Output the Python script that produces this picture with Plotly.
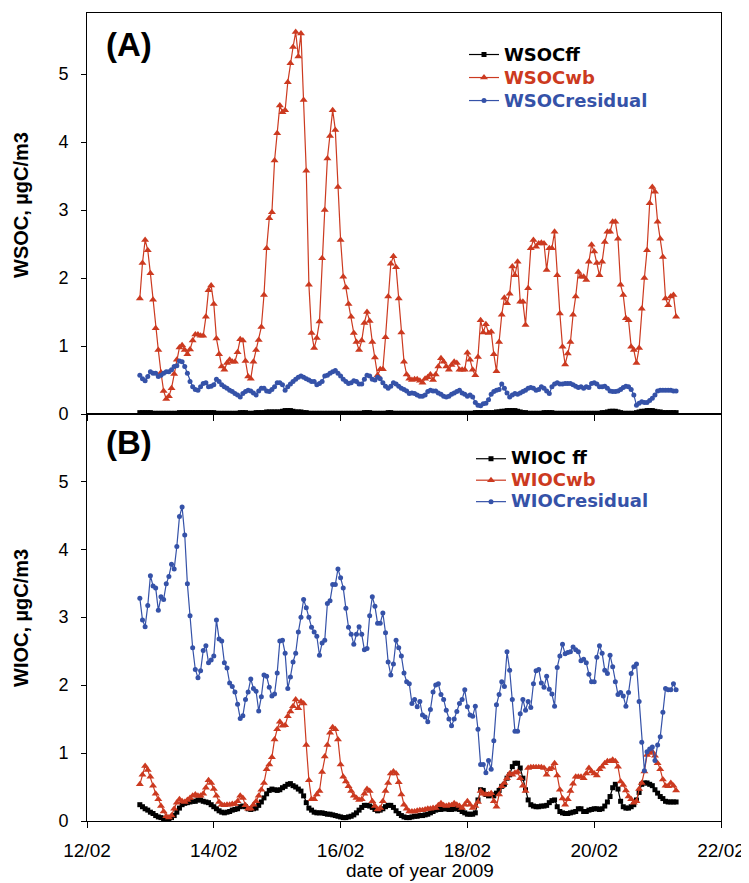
import pandas as pd
import plotly.graph_objects as go

# ---------------- data (hourly values, 12/02/2009 20:00 -> 21/02/2009 07:00) ----------------
start_time = "2009-02-12 20:00"

wsoc_ff = [
    0.02, 0.02, 0.02, 0.02, 0.02, 0.01, 0.01, 0.01, 0.01, 0.01,
    0.01, 0.01, 0.01, 0.01, 0.01, 0.02, 0.02, 0.02, 0.02, 0.02,
    0.02, 0.02, 0.02, 0.02, 0.02, 0.02, 0.02, 0.02, 0.02, 0.01,
    0.01, 0.01, 0.01, 0.01, 0.01, 0.01, 0.01, 0.01, 0.02, 0.02,
    0.02, 0.01, 0.01, 0.01, 0.02, 0.02, 0.02, 0.02, 0.03, 0.03,
    0.03, 0.03, 0.03, 0.03, 0.04, 0.05, 0.05, 0.05, 0.04, 0.03,
    0.03, 0.03, 0.02, 0.02, 0.01, 0.01, 0.01, 0.01, 0.01, 0.01,
    0.01, 0.01, 0.01, 0.01, 0.01, 0.01, 0.01, 0.01, 0.01, 0.01,
    0.01, 0.01, 0.01, 0.01, 0.01, 0.02, 0.02, 0.02, 0.01, 0.01,
    0.01, 0.01, 0.01, 0.01, 0.02, 0.02, 0.01, 0.01, 0.01, 0.01,
    0.01, 0.01, 0.01, 0.01, 0.01, 0.01, 0.01, 0.01, 0.01, 0.01,
    0.01, 0.01, 0.01, 0.01, 0.01, 0.01, 0.01, 0.01, 0.01, 0.01,
    0.01, 0.01, 0.01, 0.01, 0.01, 0.01, 0.01, 0.02, 0.02, 0.02,
    0.02, 0.02, 0.02, 0.02, 0.02, 0.03, 0.03, 0.04, 0.04, 0.05,
    0.05, 0.05, 0.05, 0.04, 0.03, 0.02, 0.02, 0.01, 0.01, 0.01,
    0.01, 0.01, 0.01, 0.02, 0.02, 0.02, 0.02, 0.01, 0.01, 0.01,
    0.01, 0.01, 0.01, 0.01, 0.01, 0.01, 0.01, 0.01, 0.01, 0.01,
    0.01, 0.01, 0.01, 0.01, 0.01, 0.02, 0.02, 0.03, 0.04, 0.04,
    0.04, 0.03, 0.02, 0.01, 0.01, 0.01, 0.01, 0.01, 0.02, 0.03,
    0.04, 0.04, 0.05, 0.05, 0.05, 0.04, 0.03, 0.03, 0.02, 0.02,
    0.02, 0.02, 0.02, 0.02,
]

wsoc_wb = [
    1.70, 2.22, 2.56, 2.41, 2.07, 1.68, 1.26, 0.94, 0.61, 0.34,
    0.22, 0.26, 0.38, 0.59, 0.80, 0.98, 1.01, 0.94, 0.88, 0.95,
    1.08, 1.17, 1.17, 1.15, 1.15, 1.43, 1.82, 1.89, 1.62, 1.11,
    0.88, 0.70, 0.65, 0.75, 0.80, 0.77, 0.77, 0.91, 1.10, 1.08,
    0.78, 0.55, 0.52, 0.77, 0.94, 1.09, 1.28, 1.75, 2.44, 2.88,
    2.97, 3.73, 4.13, 4.54, 4.44, 4.47, 4.88, 5.16, 5.40, 5.62,
    5.26, 5.60, 4.62, 3.58, 1.90, 1.19, 0.97, 1.12, 1.36, 2.29,
    3.00, 3.76, 4.09, 4.47, 4.18, 3.34, 2.56, 2.02, 1.86, 1.62,
    1.43, 1.19, 1.06, 0.94, 1.08, 1.34, 1.50, 1.37, 1.06, 0.83,
    0.57, 0.66, 0.66, 1.13, 1.73, 2.21, 2.32, 2.16, 1.70, 1.20,
    0.77, 0.58, 0.52, 0.50, 0.51, 0.51, 0.49, 0.46, 0.52, 0.54,
    0.58, 0.50, 0.58, 0.70, 0.82, 0.77, 0.70, 0.65, 0.72, 0.77,
    0.75, 0.65, 0.65, 0.65, 0.90, 0.80, 0.65, 0.57, 0.84, 1.38,
    1.20, 1.32, 1.19, 1.21, 0.88, 0.63, 1.06, 1.46, 1.71, 1.63,
    1.77, 2.17, 2.04, 2.24, 1.65, 1.65, 1.31, 1.85, 2.44, 2.56,
    2.46, 2.51, 2.52, 2.51, 2.12, 2.44, 2.44, 2.68, 2.04, 1.48,
    0.99, 0.73, 0.89, 1.06, 1.46, 1.73, 2.09, 2.02, 2.02, 1.97,
    2.24, 2.49, 2.39, 2.22, 2.04, 2.24, 2.53, 2.68, 2.68, 2.83,
    2.83, 2.58, 1.90, 1.75, 1.41, 1.38, 0.99, 0.94, 0.75, 0.97,
    1.55, 2.00, 2.41, 3.10, 3.34, 3.27, 2.83, 2.58, 2.31, 1.70,
    1.60, 1.73, 1.75, 1.43,
]

wsoc_residual = [
    0.57, 0.52, 0.49, 0.55, 0.62, 0.60, 0.60, 0.55, 0.57, 0.60,
    0.62, 0.62, 0.65, 0.70, 0.71, 0.78, 0.77, 0.70, 0.60, 0.48,
    0.40, 0.36, 0.35, 0.40, 0.45, 0.46, 0.40, 0.41, 0.43, 0.51,
    0.48, 0.43, 0.40, 0.38, 0.35, 0.33, 0.30, 0.28, 0.25, 0.30,
    0.33, 0.35, 0.34, 0.31, 0.28, 0.34, 0.38, 0.38, 0.34, 0.33,
    0.36, 0.40, 0.46, 0.46, 0.43, 0.35, 0.40, 0.44, 0.48, 0.51,
    0.54, 0.56, 0.54, 0.52, 0.50, 0.48, 0.48, 0.43, 0.45, 0.48,
    0.56, 0.57, 0.60, 0.62, 0.64, 0.60, 0.56, 0.51, 0.48, 0.45,
    0.46, 0.49, 0.48, 0.44, 0.44, 0.51, 0.57, 0.56, 0.51, 0.50,
    0.54, 0.52, 0.46, 0.41, 0.38, 0.41, 0.46, 0.44, 0.41, 0.38,
    0.36, 0.34, 0.30, 0.31, 0.30, 0.28, 0.26, 0.26, 0.28, 0.33,
    0.35, 0.34, 0.34, 0.31, 0.29, 0.26, 0.25, 0.26, 0.29, 0.31,
    0.33, 0.35, 0.31, 0.29, 0.26, 0.28, 0.25, 0.17, 0.13, 0.12,
    0.15, 0.16, 0.21, 0.29, 0.33, 0.35, 0.36, 0.44, 0.38, 0.31,
    0.25, 0.28, 0.30, 0.29, 0.31, 0.33, 0.35, 0.38, 0.39, 0.38,
    0.35, 0.36, 0.40, 0.38, 0.34, 0.30, 0.40, 0.44, 0.46, 0.44,
    0.44, 0.45, 0.45, 0.45, 0.43, 0.41, 0.39, 0.40, 0.38, 0.40,
    0.39, 0.45, 0.46, 0.44, 0.40, 0.40, 0.41, 0.38, 0.34, 0.33,
    0.33, 0.34, 0.36, 0.39, 0.41, 0.40, 0.36, 0.28, 0.13, 0.16,
    0.18, 0.17, 0.17, 0.20, 0.23, 0.28, 0.34, 0.35, 0.35, 0.35,
    0.35, 0.35, 0.34, 0.34,
]

wioc_ff = [
    0.24, 0.21, 0.18, 0.16, 0.13, 0.11, 0.08, 0.06, 0.05, 0.03,
    0.02, 0.02, 0.05, 0.08, 0.13, 0.19, 0.24, 0.26, 0.27, 0.28,
    0.29, 0.29, 0.31, 0.31, 0.29, 0.28, 0.27, 0.24, 0.21, 0.18,
    0.15, 0.13, 0.12, 0.13, 0.14, 0.16, 0.17, 0.18, 0.21, 0.22,
    0.21, 0.18, 0.17, 0.18, 0.19, 0.23, 0.28, 0.34, 0.40, 0.45,
    0.47, 0.46, 0.45, 0.46, 0.49, 0.51, 0.54, 0.55, 0.52, 0.50,
    0.47, 0.44, 0.37, 0.27, 0.19, 0.16, 0.13, 0.12, 0.12, 0.12,
    0.11, 0.10, 0.10, 0.09, 0.08, 0.07, 0.06, 0.05, 0.05, 0.06,
    0.07, 0.09, 0.12, 0.16, 0.20, 0.23, 0.23, 0.22, 0.20, 0.17,
    0.15, 0.16, 0.18, 0.21, 0.23, 0.23, 0.20, 0.15, 0.11, 0.08,
    0.06, 0.05, 0.05, 0.06, 0.07, 0.07, 0.08, 0.08, 0.09, 0.10,
    0.12, 0.14, 0.16, 0.17, 0.17, 0.18, 0.18, 0.17, 0.17, 0.18,
    0.18, 0.17, 0.14, 0.12, 0.10, 0.10, 0.10, 0.12, 0.31, 0.46,
    0.45, 0.39, 0.37, 0.39, 0.37, 0.41, 0.45, 0.51, 0.54, 0.63,
    0.68, 0.80, 0.85, 0.85, 0.78, 0.63, 0.46, 0.31, 0.24, 0.22,
    0.21, 0.21, 0.22, 0.22, 0.23, 0.27, 0.30, 0.31, 0.21, 0.14,
    0.12, 0.11, 0.11, 0.12, 0.13, 0.14, 0.18, 0.18, 0.14, 0.14,
    0.16, 0.17, 0.18, 0.18, 0.17, 0.18, 0.22, 0.28, 0.36, 0.49,
    0.54, 0.47, 0.29, 0.21, 0.19, 0.19, 0.21, 0.24, 0.31, 0.42,
    0.54, 0.56, 0.56, 0.54, 0.52, 0.46, 0.41, 0.36, 0.33, 0.29,
    0.28, 0.28, 0.28, 0.28,
]

wioc_wb = [
    0.54, 0.68, 0.81, 0.75, 0.65, 0.52, 0.40, 0.32, 0.22, 0.14,
    0.07, 0.05, 0.08, 0.18, 0.27, 0.32, 0.29, 0.28, 0.31, 0.34,
    0.37, 0.39, 0.37, 0.37, 0.40, 0.49, 0.60, 0.56, 0.47, 0.37,
    0.28, 0.24, 0.23, 0.24, 0.24, 0.25, 0.25, 0.29, 0.37, 0.34,
    0.23, 0.18, 0.18, 0.24, 0.29, 0.37, 0.46, 0.56, 0.76, 0.83,
    0.94, 1.20, 1.35, 1.46, 1.40, 1.41, 1.54, 1.61, 1.69, 1.79,
    1.66, 1.76, 1.73, 1.12, 0.60, 0.32, 0.32, 0.39, 0.44, 0.72,
    0.95, 1.12, 1.30, 1.38, 1.35, 1.20, 0.83, 0.65, 0.58, 0.51,
    0.44, 0.37, 0.34, 0.31, 0.32, 0.40, 0.47, 0.44, 0.29, 0.22,
    0.17, 0.19, 0.29, 0.44, 0.56, 0.70, 0.73, 0.70, 0.57, 0.39,
    0.24, 0.18, 0.14, 0.14, 0.14, 0.15, 0.16, 0.16, 0.17, 0.18,
    0.18, 0.19, 0.19, 0.23, 0.26, 0.23, 0.22, 0.23, 0.23, 0.26,
    0.24, 0.22, 0.19, 0.24, 0.29, 0.24, 0.19, 0.22, 0.28, 0.44,
    0.40, 0.39, 0.39, 0.41, 0.29, 0.21, 0.39, 0.51, 0.56, 0.63,
    0.70, 0.68, 0.71, 0.72, 0.63, 0.52, 0.44, 0.78, 0.79, 0.79,
    0.79, 0.79, 0.79, 0.78, 0.68, 0.76, 0.78, 0.85, 0.67, 0.46,
    0.33, 0.24, 0.32, 0.44, 0.55, 0.65, 0.65, 0.65, 0.63, 0.70,
    0.78, 0.73, 0.70, 0.67, 0.76, 0.80, 0.85, 0.88, 0.88, 0.90,
    0.88, 0.80, 0.58, 0.53, 0.45, 0.36, 0.32, 0.27, 0.29, 0.47,
    0.56, 0.73, 0.97, 1.00, 1.02, 0.96, 0.85, 0.76, 0.61, 0.52,
    0.51, 0.56, 0.52, 0.45,
]

wioc_residual = [
    3.28, 2.96, 2.86, 3.17, 3.61, 3.46, 3.43, 3.10, 3.30, 3.26,
    3.49, 3.60, 3.78, 3.71, 4.04, 4.48, 4.62, 4.21, 3.49, 3.02,
    2.55, 2.23, 2.11, 2.21, 2.51, 2.58, 2.33, 2.37, 2.43, 2.96,
    2.68, 2.65, 2.33, 2.25, 2.03, 1.98, 1.90, 1.72, 1.51, 1.55,
    1.79, 1.90, 2.09, 1.95, 1.91, 1.62, 1.83, 2.15, 2.13, 1.97,
    1.84, 1.87, 2.18, 2.65, 2.66, 2.47, 1.95, 2.12, 2.34, 2.47,
    2.78, 3.00, 3.26, 3.14, 3.00, 2.85, 2.78, 2.72, 2.44, 2.62,
    2.66, 3.20, 3.24, 3.48, 3.48, 3.71, 3.58, 3.43, 3.13, 2.85,
    2.75, 2.60, 2.75, 2.86, 2.75, 2.52, 2.54, 3.02, 3.30, 3.16,
    2.91, 2.91, 3.06, 2.77, 2.34, 2.15, 2.31, 2.66, 2.55, 2.43,
    2.18, 2.05, 2.02, 1.73, 1.79, 1.68, 1.76, 1.56, 1.53, 1.46,
    1.64, 1.90, 2.00, 2.02, 1.86, 1.79, 1.63, 1.50, 1.40, 1.50,
    1.61, 1.73, 1.79, 1.93, 1.68, 1.56, 1.54, 1.69, 1.35, 0.83,
    0.83, 0.71, 0.89, 0.76, 1.18, 1.71, 1.86, 2.05, 1.98, 2.49,
    2.22, 1.79, 1.32, 1.32, 1.58, 1.79, 1.63, 1.76, 1.67, 2.02,
    2.21, 2.23, 2.03, 1.97, 2.13, 1.94, 1.87, 1.69, 2.26, 2.43,
    2.60, 2.46, 2.48, 2.49, 2.56, 2.52, 2.49, 2.36, 2.38, 2.33,
    2.16, 2.05, 2.05, 2.41, 2.58, 2.47, 2.22, 2.17, 2.44, 2.27,
    2.05, 1.86, 1.89, 1.84, 1.69, 1.89, 2.17, 2.27, 2.31, 1.76,
    1.16, 0.74, 1.02, 1.06, 1.09, 0.89, 1.12, 1.24, 1.60, 1.95,
    1.93, 1.93, 2.02, 1.93,
]

y_tick_values = [0, 1, 2, 3, 4, 5]
x_tick_dates = ["2009-02-12", "2009-02-14", "2009-02-16", "2009-02-18", "2009-02-20", "2009-02-22"]
x_tick_labels = ["12/02", "14/02", "16/02", "18/02", "20/02", "22/02"]

lengths = [len(s) for s in (wsoc_ff, wsoc_wb, wsoc_residual, wioc_ff, wioc_wb, wioc_residual)]
assert len(set(lengths)) == 1, lengths
times = pd.date_range(start_time, periods=len(wsoc_wb), freq="h")

# ---------------- styling ----------------
BLACK = "#000000"
RED = "#CC3A20"
BLUE = "#3552A8"
FONT = "Liberation Sans, Arial, sans-serif"
LEGEND_FONT = "DejaVu Sans, Liberation Sans, sans-serif"

fig = go.Figure()


def add(y, name, color, symbol, size, xa, ya, legend):
    fig.add_trace(go.Scatter(
        x=times, y=y, mode="lines+markers",
        name=f"<b><span style='color:{color};font-size:18px'>{name}</span></b>",
        line=dict(color=color, width=1.2),
        marker=dict(symbol=symbol, size=size, color=color, line=dict(width=0)),
        xaxis=xa, yaxis=ya, legend=legend,
    ))


# top panel (A)
add(wsoc_ff, "WSOCff", BLACK, "square", 5, "x2", "y2", "legend")
add(wsoc_wb, "WSOCwb", RED, "triangle-up", 7, "x2", "y2", "legend")
add(wsoc_residual, "WSOCresidual", BLUE, "circle", 5, "x2", "y2", "legend")
# bottom panel (B)
add(wioc_ff, "WIOC ff", BLACK, "square", 5, "x", "y", "legend2")
add(wioc_wb, "WIOCwb", RED, "triangle-up", 7, "x", "y", "legend2")
add(wioc_residual, "WIOCresidual", BLUE, "circle", 5, "x", "y", "legend2")

# page is rendered with an 8px body margin: work in page pixels, convert to figure
OFF = 8
W, H = 749, 883
PL, PR, PT, PB = 87, 721, 13, 821          # plot box in page pixels
L, T = PL - OFF, PT - OFF
R = W - (PR - OFF)
B = H - (PB - OFF)
pw, ph = W - L - R, H - T - B
split = (821 - 414) / ph


def px(page_x):
    return (page_x - PL) / pw


def py(page_y):
    return (PB - page_y) / ph


axis_common = dict(showline=True, linecolor="black", linewidth=1, mirror=True,
                   showgrid=False, zeroline=False, ticks="outside", tickcolor="black")

fig.update_layout(
    width=W, height=H,
    margin=dict(l=L, r=R, t=T, b=B),
    paper_bgcolor="white", plot_bgcolor="white",
    font=dict(family=FONT, size=18, color="black"),
    showlegend=True,
    xaxis=dict(domain=[0, 1], anchor="y", type="date",
               range=["2009-02-12", "2009-02-22"],
               tickvals=x_tick_dates, ticktext=x_tick_labels,
               ticklen=6, ticklabelstandoff=6,
               tickfont=dict(size=19), **axis_common),
    yaxis=dict(domain=[0, split], anchor="x", range=[0, 5.99],
               tickvals=y_tick_values, ticklen=5, ticklabelstandoff=9,
               tickfont=dict(size=18), **axis_common),
    xaxis2=dict(domain=[0, 1], anchor="y2", type="date", matches="x",
                range=["2009-02-12", "2009-02-22"],
                tickvals=x_tick_dates, showticklabels=False,
                ticklen=6, **axis_common),
    yaxis2=dict(domain=[split, 1], anchor="x2", range=[0, 5.9],
                tickvals=y_tick_values, ticklen=5, ticklabelstandoff=9,
                tickfont=dict(size=18), **axis_common),
    legend=dict(x=px(464), y=py(38), xanchor="left", yanchor="top",
                bgcolor="rgba(0,0,0,0)", font=dict(size=15.4, family=LEGEND_FONT),
                itemwidth=30, tracegroupgap=0),
    legend2=dict(x=px(471), y=py(443), xanchor="left", yanchor="top",
                 bgcolor="rgba(0,0,0,0)", font=dict(size=14.2, family=LEGEND_FONT),
                 itemwidth=30, tracegroupgap=0),
    annotations=[
        dict(text="<b>(A)</b>", x=px(104), y=py(44), xref="paper", yref="paper",
             xanchor="left", yanchor="middle", showarrow=False, font=dict(size=33)),
        dict(text="<b>(B)</b>", x=px(104), y=py(442), xref="paper", yref="paper",
             xanchor="left", yanchor="middle", showarrow=False, font=dict(size=33)),
        dict(text="<b>WSOC, µgC/m3</b>", x=px(21), y=py(205), xref="paper", yref="paper",
             xanchor="center", yanchor="middle", textangle=-90, showarrow=False,
             font=dict(size=20)),
        dict(text="<b>WIOC, µgC/m3</b>", x=px(21), y=py(618), xref="paper", yref="paper",
             xanchor="center", yanchor="middle", textangle=-90, showarrow=False,
             font=dict(size=20)),
        dict(text="date of year 2009", x=px(420), y=py(870), xref="paper", yref="paper",
             xanchor="center", yanchor="middle", showarrow=False, font=dict(size=19)),
    ],
)

fig.write_html("out.html")
